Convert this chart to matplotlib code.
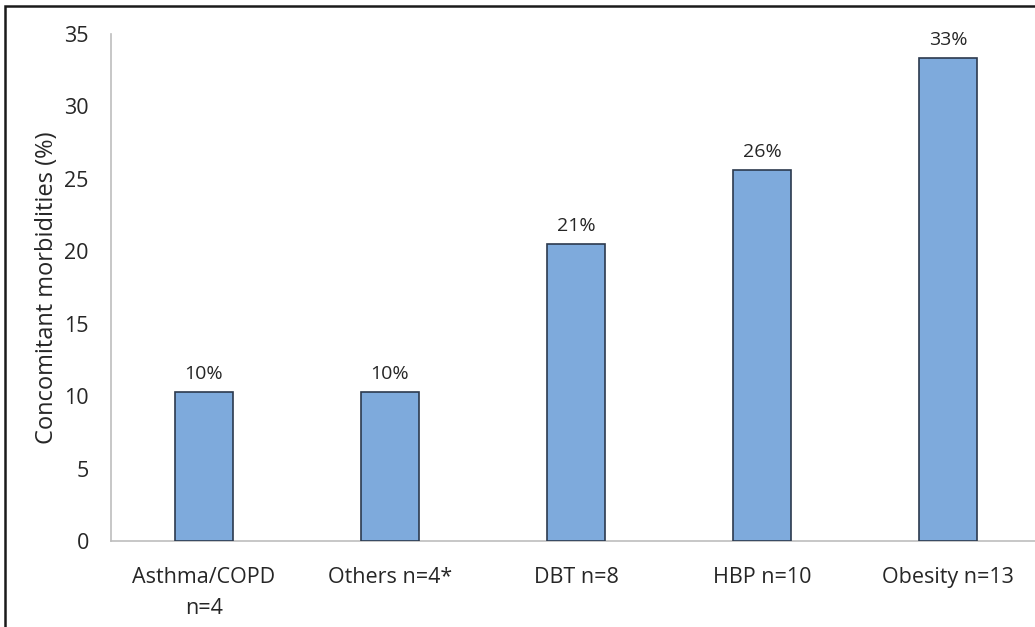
import matplotlib
matplotlib.use("Agg")
import matplotlib.pyplot as plt
from matplotlib.patches import Rectangle

categories = ["Asthma/COPD\nn=4", "Others n=4*", "DBT n=8", "HBP n=10", "Obesity n=13"]
percentages = [10.26, 10.26, 20.51, 25.64, 33.33]
value_labels = ["10%", "10%", "21%", "26%", "33%"]
yticks = [0, 5, 10, 15, 20, 25, 30, 35]

W, H = 1035, 627
fig = plt.figure(figsize=(W / 100, H / 100), dpi=100)
plt.rcParams["font.family"] = ["Open Sans", "DejaVu Sans"]

# plot area in pixel terms
left, right, top, bottom = 111, 1041, 34, 541
ax = fig.add_axes([left / W, (H - bottom) / H, (right - left) / W, (bottom - top) / H])

x = list(range(len(categories)))
ax.bar(x, percentages, width=0.31, color="#7eaadc", edgecolor="#2c3a4e", linewidth=1.2, zorder=3)

for xi, v, lab in zip(x, percentages, value_labels):
    ax.annotate(lab, (xi, v), xytext=(0, 6.5), textcoords="offset points",
                ha="center", va="bottom", fontsize=14, color="#262626")

ax.set_xlim(-0.5, len(categories) - 0.5)
ax.set_ylim(0, 35)
ax.set_yticks(yticks)
ax.set_xticks(x)
ax.set_xticklabels(categories, fontsize=15.5, color="#262626", linespacing=1.6)
ax.tick_params(axis="y", length=0, pad=16, labelsize=15.5, labelcolor="#262626")
ax.tick_params(axis="x", length=0, pad=19)
ax.set_ylabel("Concomitant morbidities (%)", fontsize=17, color="#262626", labelpad=4)

for s in ["top", "right"]:
    ax.spines[s].set_visible(False)
for s in ["left", "bottom"]:
    ax.spines[s].set_color("#bdbdbd")
    ax.spines[s].set_linewidth(1.2)

# outer frame around the figure panel
fig.patches.append(Rectangle((5 / W, -0.2), 1.2, 1.2 - 6 / H, transform=fig.transFigure,
                             fill=False, edgecolor="#1a1a1a", linewidth=1.8, zorder=10))

fig.savefig("out.png", dpi=100)
